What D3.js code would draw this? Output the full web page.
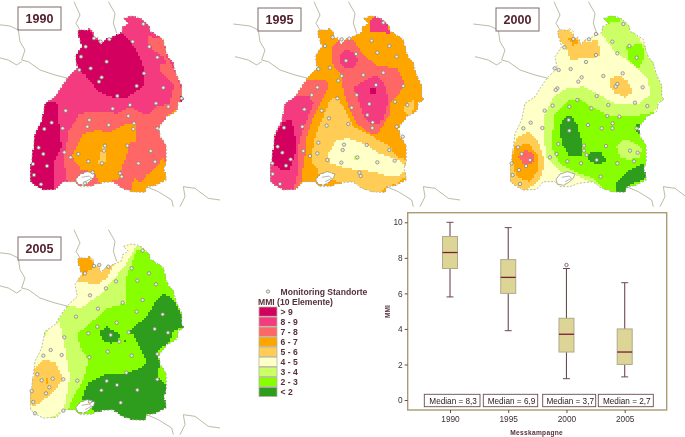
<!DOCTYPE html>
<html>
<head>
<meta charset="utf-8">
<script src="https://cdnjs.cloudflare.com/ajax/libs/d3/7.8.5/d3.min.js"></script>
<style>
  html, body { margin: 0; padding: 0; background: #fff; }
  text { font-family: "Liberation Sans", Arial, sans-serif; }
</style>
</head>
<body>
<div id="chart"></div>
<script>
// box plot values
var years = ["1990", "1995", "2000", "2005"];
var whiskerLow = [5.8, 3.9, 1.2, 1.3];
var quartile1 = [7.4, 6.0, 2.7, 2.0];
var medians = [8.3, 6.9, 3.7, 2.7];
var quartile3 = [9.2, 7.9, 4.6, 4.0];
var whiskerHigh = [10, 9.7, 7.4, 6.6];
var outliers = [[], [], [7.6], []];
var yTicks = [0, 2, 4, 6, 8, 10];

// map classes
var classLabels = ["> 9", "8 - 9", "7 - 8", "6 - 7", "5 - 6", "4 - 5", "3 - 4", "2 - 3", "< 2"];
var classColors = ["#d4005f", "#f43a80", "#ff6666", "#ffa500", "#ffcc55", "#ffffc8", "#ccff66", "#88ff00", "#2f9c1a"];

// state shape
var stateOutline = [[232,95],[245,88],[262,92],[268,85],[280,95],[280,112],[295,112],[302,132],[318,118],[335,112],[365,98],[368,80],[385,70],[370,55],[395,48],[415,52],[432,62],[445,75],[452,95],[470,105],[490,118],[497,150],[505,170],[520,190],[530,225],[545,255],[545,290],[552,298],[535,310],[530,335],[500,350],[490,365],[475,385],[482,410],[500,440],[500,480],[492,505],[500,540],[470,555],[440,562],[435,578],[395,575],[360,562],[340,545],[295,550],[270,560],[240,560],[225,545],[190,545],[170,568],[130,570],[110,560],[92,545],[92,500],[100,440],[105,400],[125,360],[135,310],[165,290],[190,250],[205,230],[232,205],[225,170],[245,140]];
var lake = [[228,538],[240,522],[262,515],[285,522],[280,535],[265,548],[250,556],[232,552]];
var lakeLine = [[245,532],[268,528],[275,535],[255,545]];
var borders = [
  [[-20,72],[30,78],[55,90],[60,125],[75,150],[65,180],[85,185],[120,210],[165,225],[205,235]],
  [[-15,170],[25,180],[50,195],[65,185]],
  [[222,5],[240,45],[228,70],[240,90]],
  [[325,5],[345,40],[340,70],[350,100]],
  [[440,560],[475,575],[515,600],[520,620]],
  [[540,620],[555,590],[550,560],[585,565],[625,595],[660,600]]
];

// class areas per map, later areas paint over earlier ones
var layers1990 = [
  { c: 2, p: [[445,110],[490,115],[500,170],[530,225],[555,295],[530,340],[500,350],[475,385],[505,440],[505,480],[505,540],[440,585],[395,585],[350,565],[295,555],[240,565],[200,540],[190,470],[205,410],[205,395],[240,340],[300,335],[350,340],[390,320],[440,345],[470,320],[510,310],[515,280],[525,260],[480,210],[480,190],[500,190],[490,170],[460,150],[445,130]] },
  { c: 3, p: [[215,470],[250,400],[290,392],[335,395],[380,370],[405,370],[408,425],[385,430],[380,470],[365,500],[355,540],[300,550],[280,515],[245,510]] },
  { c: 3, p: [[420,550],[440,525],[470,500],[490,470],[505,510],[505,545],[440,565],[440,585],[390,580],[402,535],[415,540]] },
  { c: 3, p: [[505,345],[530,330],[535,340],[505,355]] },
  { c: 4, p: [[302,460],[310,435],[320,440],[318,480],[305,495],[295,490]] },
  { c: 0, p: [[225,85],[262,85],[280,105],[300,130],[318,118],[365,98],[395,130],[420,170],[435,215],[435,250],[415,270],[375,295],[330,290],[290,270],[265,235],[235,205],[222,170],[240,140]] },
  { c: 0, p: [[130,310],[170,305],[180,400],[185,440],[165,480],[160,575],[130,575],[105,565],[88,545],[88,500],[95,440],[100,400],[120,360]] },
  { c: 0, p: [[540,288],[556,292],[552,304],[540,304]] }
];
var layers1995 = [
  { c: 4, p: [[320,290],[340,320],[355,350],[370,380],[420,405],[480,440],[500,470],[530,480],[535,525],[500,550],[470,560],[445,580],[400,570],[360,555],[310,540],[265,520],[260,500],[245,490],[250,430],[265,385],[280,350],[300,300]] },
  { c: 4, p: [[530,310],[555,300],[555,325],[535,350],[520,330]] },
  { c: 5, p: [[320,420],[355,415],[410,435],[445,460],[480,470],[515,485],[530,510],[505,530],[460,525],[430,515],[390,510],[350,505],[300,490],[295,460]] },
  { c: 6, p: [[374,468],[386,468],[386,480],[374,480]] },
  { c: 2, p: [[305,140],[330,120],[370,122],[405,170],[440,195],[500,205],[520,240],[520,265],[480,310],[480,340],[460,375],[440,405],[410,395],[380,370],[355,320],[340,270],[335,225],[305,190]] },
  { c: 1, p: [[420,60],[440,45],[470,60],[480,100],[420,95]] },
  { c: 2, p: [[225,240],[290,240],[295,260],[270,310],[250,350],[230,410],[225,470],[215,530],[210,575],[130,575],[110,545],[115,450],[160,340],[175,295],[200,270]] },
  { c: 1, p: [[160,310],[190,290],[235,285],[250,310],[235,350],[215,400],[205,440],[205,510],[190,575],[135,575],[110,545],[115,470],[130,420],[155,350]] },
  { c: 0, p: [[160,365],[185,360],[195,410],[195,460],[180,510],[155,510],[125,490],[125,440],[140,395]] },
  { c: 1, p: [[370,265],[395,245],[440,225],[465,255],[475,300],[465,345],[445,375],[425,375],[400,345],[385,300]] },
  { c: 1, p: [[330,165],[350,148],[375,160],[385,180],[370,205],[345,205],[328,190]] },
  { c: 0, p: [[418,268],[438,262],[436,285],[420,285]] },
  { c: 1, p: [[450,350],[466,346],[462,360],[452,360]] }
];
var layers2000 = [
  { c: 6, p: [[420,35],[500,40],[540,120],[580,170],[620,240],[625,295],[580,335],[550,380],[565,420],[570,500],[570,545],[480,585],[440,580],[400,550],[350,525],[300,515],[260,470],[250,410],[250,350],[280,290],[320,265],[370,260],[420,285],[470,315],[530,315],[570,285],[565,240],[540,210],[500,180],[470,160],[440,125],[420,90]] },
  { c: 7, p: [[425,40],[475,40],[478,65],[445,70],[430,62]] },
  { c: 7, p: [[500,140],[545,130],[555,170],[535,205],[505,180]] },
  { c: 7, p: [[280,345],[320,305],[355,295],[395,320],[440,345],[490,350],[540,345],[590,335],[550,375],[565,420],[570,500],[570,545],[480,585],[440,575],[400,535],[345,515],[300,490],[275,440],[280,380]] },
  { c: 6, p: [[470,440],[490,420],[520,425],[545,445],[540,470],[510,480],[480,470]] },
  { c: 8, p: [[305,360],[330,345],[350,370],[365,420],[365,465],[330,470],[305,430],[300,390]] },
  { c: 8, p: [[385,460],[420,455],[440,480],[415,495],[385,480]] },
  { c: 8, p: [[470,545],[510,510],[550,490],[570,530],[510,555],[490,585],[465,570]] },
  { c: 8, p: [[525,380],[535,365],[560,415],[530,395]] },
  { c: 4, p: [[290,85],[320,80],[345,110],[385,125],[415,120],[420,170],[330,180],[320,145],[290,115]] },
  { c: 4, p: [[450,235],[480,225],[505,245],[520,275],[495,292],[465,280],[450,260]] },
  { c: 3, p: [[325,115],[345,110],[355,125],[340,140]] },
  { c: 4, p: [[145,450],[175,410],[205,395],[235,425],[255,490],[240,540],[200,570],[170,580],[145,540]] },
  { c: 3, p: [[155,480],[165,440],[205,430],[235,470],[235,510],[210,545],[170,530]] },
  { c: 2, p: [[175,470],[195,450],[220,460],[220,485],[195,500]] }
];
var layers2005 = [
  { c: 5, p: [[180,305],[195,385],[210,470],[200,530],[190,570],[145,600],[100,595],[80,560],[85,470],[105,410],[125,370],[150,320]] },
  { c: 5, p: [[225,165],[225,130],[300,130],[350,110],[385,60],[415,65],[380,130],[340,180],[300,225],[240,265],[205,255],[225,195]] },
  { c: 4, p: [[225,190],[225,105],[265,100],[300,130],[335,120],[352,115],[320,175],[290,195],[245,185]] },
  { c: 3, p: [[222,112],[262,100],[275,125],[300,130],[270,150],[245,170],[235,165]] },
  { c: 4, p: [[90,460],[130,420],[165,425],[190,475],[165,510],[120,550],[100,560],[80,530]] },
  { c: 3, p: [[139,472],[146,472],[145,490],[139,490]] },
  { c: 7, p: [[232,340],[260,320],[320,265],[380,250],[380,170],[395,130],[410,90],[440,95],[490,110],[505,170],[525,220],[565,290],[560,320],[510,375],[505,480],[505,530],[505,565],[440,610],[380,605],[320,585],[260,580],[235,590],[200,580],[220,530],[250,480],[265,420],[240,380]] },
  { c: 8, p: [[385,335],[440,290],[470,240],[490,220],[510,230],[530,255],[560,320],[520,330],[510,365],[470,395],[480,430],[470,470],[505,500],[505,570],[440,585],[430,610],[380,605],[340,585],[290,580],[245,535],[265,490],[310,465],[380,460],[430,440],[440,425],[425,395],[400,345]] },
  { c: 8, p: [[300,335],[320,320],[345,335],[360,345],[355,365],[330,370],[305,360]] },
  { c: 8, p: [[372,360],[382,358],[378,370]] }
];

// monitoring sites per map
var sites1990 = [[430,72],[448,140],[472,172],[398,125],[282,115],[302,125],[328,118],[257,140],[243,170],[238,210],[272,205],[320,185],[432,220],[305,232],[297,245],[410,258],[352,288],[490,263],[545,295],[197,332],[338,326],[390,315],[468,310],[505,320],[268,360],[385,348],[402,370],[400,387],[326,375],[262,380],[188,385],[155,368],[133,387],[472,385],[315,437],[312,452],[382,437],[306,490],[116,443],[130,462],[193,457],[235,462],[212,472],[265,484],[452,453],[465,485],[415,490],[99,492],[141,498],[102,525],[123,553],[278,517],[360,520],[365,530],[255,550]];
var sites1995 = [[460,68],[425,122],[478,138],[442,158],[500,170],[285,138],[308,112],[335,118],[358,116],[378,162],[348,182],[265,207],[300,203],[335,228],[325,242],[400,225],[460,218],[520,258],[438,255],[262,262],[245,285],[380,285],[322,295],[418,312],[495,305],[532,315],[223,328],[275,332],[365,323],[297,355],[412,345],[428,367],[427,384],[355,372],[290,377],[217,380],[162,383],[500,380],[518,410],[265,428],[342,434],[410,435],[338,450],[143,440],[157,458],[220,453],[262,460],[240,468],[478,450],[382,472],[292,480],[334,488],[442,487],[494,482],[182,478],[127,490],[168,497],[128,522],[150,552],[388,518],[392,528]];
var sites2000 = [[490,72],[408,102],[387,118],[340,117],[313,142],[457,125],[508,138],[472,160],[530,173],[408,165],[378,186],[284,205],[296,210],[332,207],[488,220],[430,228],[365,232],[355,245],[472,252],[467,260],[548,262],[292,265],[287,270],[410,288],[352,300],[525,308],[562,318],[445,315],[328,320],[394,325],[278,317],[254,332],[442,348],[478,350],[212,368],[326,360],[384,375],[458,370],[457,385],[247,384],[425,385],[190,385],[530,385],[328,392],[295,432],[372,437],[438,438],[174,442],[185,462],[372,452],[510,452],[533,458],[380,465],[290,462],[270,472],[155,490],[210,480],[198,498],[322,484],[363,490],[410,480],[472,490],[522,484],[177,510],[158,525],[180,552],[422,530]];
var sites2005 = [[428,92],[395,145],[447,160],[412,182],[468,193],[282,138],[325,140],[298,135],[255,160],[348,184],[318,205],[270,226],[428,240],[368,248],[294,266],[410,275],[488,283],[228,290],[464,327],[350,308],[292,320],[265,340],[332,345],[386,337],[504,338],[358,365],[193,352],[152,390],[185,405],[130,407],[268,412],[323,395],[395,407],[472,402],[379,458],[112,463],[125,481],[158,476],[190,478],[232,482],[320,483],[351,495],[472,478],[148,502],[95,513],[138,520],[304,511],[412,510],[100,546],[362,548],[190,572],[105,580],[270,545]];

render();

function render() {
  var svg = d3.select("#chart")
    .append("svg")
    .attr("width", 685)
    .attr("height", 437);

  var blur = svg.append("defs").append("filter")
    .attr("id", "soft")
    .attr("x", "-5%").attr("y", "-5%").attr("width", "110%").attr("height", "110%");
  blur.append("feGaussianBlur").attr("stdDeviation", 0.5);

  var panels = [
    { year: "1990", base: 1, layers: layers1990, sites: sites1990, left: 0, top: 0, shiftX: 0, shiftY: 0, labelX: 18, labelY: 7 },
    { year: "1995", base: 3, layers: layers1995, sites: sites1995, left: 230, top: 0, shiftX: 30, shiftY: 0, labelX: 258, labelY: 8 },
    { year: "2000", base: 5, layers: layers2000, sites: sites2000, left: 460, top: 0, shiftX: 60, shiftY: 0, labelX: 496, labelY: 8 },
    { year: "2005", base: 6, layers: layers2005, sites: sites2005, left: 0, top: 220, shiftX: 0, shiftY: 24, labelX: 18, labelY: 237 }
  ];

  panels.forEach(function (panel) { drawMap(svg, panel); });
  drawLegend(svg);
  drawBoxplot(svg);
}

function drawMap(svg, panel) {
  var x = d3.scaleLinear().domain([0, 690]).range([panel.left, panel.left + 230]);
  var y = d3.scaleLinear().domain([0, 690]).range([panel.top, panel.top + 230]);
  var shifted = function (pts) {
    return pts.map(function (d) { return [d[0] + panel.shiftX, d[1] + panel.shiftY]; });
  };
  var line = d3.line()
    .x(function (d) { return x(d[0]); })
    .y(function (d) { return y(d[1]); });

  var outline = shifted(stateOutline);
  var water = shifted(lake);
  var g = svg.append("g").attr("filter", "url(#soft)");

  // the maps are coarse rasters, so sample the class areas on a small grid
  var cell = 2;
  var paths = classColors.map(function () { return ""; });
  for (var px = panel.left; px < panel.left + 230; px += cell) {
    for (var py = panel.top; py < panel.top + 217; py += cell) {
      var u = [x.invert(px + cell / 2), y.invert(py + cell / 2)];
      if (!d3.polygonContains(outline, u) || d3.polygonContains(water, u)) continue;
      var c = panel.base;
      panel.layers.forEach(function (layer) {
        if (d3.polygonContains(layer.p, u)) c = layer.c;
      });
      paths[c] += "M" + px + "," + py + "h" + cell + "v" + cell + "h-" + cell + "z";
    }
  }
  classColors.forEach(function (color, i) {
    g.append("path")
      .attr("d", paths[i])
      .attr("fill", color)
      .attr("shape-rendering", "crispEdges");
  });

  borders.forEach(function (b) {
    g.append("path")
      .attr("d", line(shifted(b)))
      .attr("fill", "none")
      .attr("stroke", "#b3b39c")
      .attr("stroke-width", 0.9);
  });
  g.append("path")
    .attr("d", line(outline) + "Z")
    .attr("fill", "none")
    .attr("stroke", "#b3b39c")
    .attr("stroke-width", 0.9)
    .attr("stroke-dasharray", "2 1.5");
  g.append("path")
    .attr("d", line(water) + "Z")
    .attr("fill", "none")
    .attr("stroke", "#9a9a88")
    .attr("stroke-width", 0.8);
  g.append("path")
    .attr("d", line(shifted(lakeLine)))
    .attr("fill", "none")
    .attr("stroke", "#9a9a88")
    .attr("stroke-width", 0.7);

  g.selectAll("circle.site")
    .data(panel.sites)
    .enter()
    .append("circle")
    .attr("class", "site")
    .attr("cx", function (d) { return x(d[0]); })
    .attr("cy", function (d) { return y(d[1]); })
    .attr("r", 1.7)
    .attr("fill", "#ecebe2")
    .attr("stroke", "#7d7d72")
    .attr("stroke-width", 0.7);

  var label = svg.append("g").attr("filter", "url(#soft)");
  label.append("rect")
    .attr("x", panel.labelX)
    .attr("y", panel.labelY)
    .attr("width", 43)
    .attr("height", 23)
    .attr("fill", "#fff")
    .attr("stroke", "#7c6a68")
    .attr("stroke-width", 1);
  label.append("text")
    .attr("x", panel.labelX + 21.5)
    .attr("y", panel.labelY + 16)
    .attr("text-anchor", "middle")
    .attr("font-size", 12.5)
    .attr("font-weight", "bold")
    .attr("fill", "#55202e")
    .text(panel.year);
}

function drawLegend(svg) {
  var g = svg.append("g").attr("filter", "url(#soft)");
  var y = d3.scaleBand().domain(classLabels).range([307, 396.5]).paddingInner(0.08);

  g.append("circle")
    .attr("cx", 268)
    .attr("cy", 291.5)
    .attr("r", 1.7)
    .attr("fill", "#ecebe2")
    .attr("stroke", "#7d7d72")
    .attr("stroke-width", 0.7);
  g.append("text")
    .attr("x", 280.5)
    .attr("y", 294.5)
    .attr("font-size", 8.6)
    .attr("font-weight", "bold")
    .attr("fill", "#55303a")
    .text("Monitoring Standorte");
  g.append("text")
    .attr("x", 258)
    .attr("y", 304.5)
    .attr("font-size", 8.6)
    .attr("font-weight", "bold")
    .attr("fill", "#55303a")
    .text("MMI (10 Elemente)");

  g.selectAll("rect.swatch")
    .data(classLabels)
    .enter()
    .append("rect")
    .attr("class", "swatch")
    .attr("x", 259)
    .attr("y", function (d) { return y(d); })
    .attr("width", 18)
    .attr("height", y.bandwidth())
    .attr("fill", function (d, i) { return classColors[i]; })
    .attr("stroke", "#b3b39c")
    .attr("stroke-width", 0.8);
  g.selectAll("text.cls")
    .data(classLabels)
    .enter()
    .append("text")
    .attr("class", "cls")
    .attr("x", 280.5)
    .attr("y", function (d) { return y(d) + y.bandwidth() / 2 + 3; })
    .attr("font-size", 8.6)
    .attr("font-weight", "bold")
    .attr("fill", "#55303a")
    .text(function (d) { return d; });
}

function drawBoxplot(svg) {
  var frame = { left: 407.7, right: 666.7, top: 212.7, bottom: 410 };
  var g = svg.append("g").attr("filter", "url(#soft)");

  var x = d3.scalePoint().domain(years).range([450, 624.7]);
  var y = d3.scaleLinear().domain([0, 10]).range([400, 222.3]);
  var stats = years.map(function (year, i) {
    return { year: year, lo: whiskerLow[i], q1: quartile1[i], med: medians[i], q3: quartile3[i], hi: whiskerHigh[i], out: outliers[i] };
  });
  var lineColor = "#6b4a4e";
  var boxWidth = 15;
  var capWidth = 7;

  g.append("rect")
    .attr("x", frame.left)
    .attr("y", frame.top)
    .attr("width", frame.right - frame.left)
    .attr("height", frame.bottom - frame.top)
    .attr("fill", "#fff")
    .attr("stroke", "#a89c72")
    .attr("stroke-width", 1.4);

  var xAxis = g.append("g")
    .attr("transform", "translate(0," + frame.bottom + ")")
    .call(d3.axisBottom(x).tickSize(3).tickPadding(3));
  var yAxis = g.append("g")
    .attr("transform", "translate(" + frame.left + ",0)")
    .call(d3.axisLeft(y).tickValues(yTicks).tickSize(3).tickPadding(2));
  [xAxis, yAxis].forEach(function (axis) {
    axis.select(".domain").remove();
    axis.selectAll("line").attr("stroke", lineColor);
    axis.selectAll("text")
      .attr("font-size", 8.3)
      .attr("fill", "#3c3034")
      .style("font-family", "'Liberation Sans', Arial, sans-serif");
  });

  var box = g.selectAll("g.box")
    .data(stats)
    .enter()
    .append("g")
    .attr("class", "box");

  box.append("line")
    .attr("x1", function (d) { return x(d.year); })
    .attr("x2", function (d) { return x(d.year); })
    .attr("y1", function (d) { return y(d.lo); })
    .attr("y2", function (d) { return y(d.hi); })
    .attr("stroke", lineColor)
    .attr("stroke-width", 1.1);
  [function (d) { return d.lo; }, function (d) { return d.hi; }].forEach(function (value) {
    box.append("line")
      .attr("x1", function (d) { return x(d.year) - capWidth / 2; })
      .attr("x2", function (d) { return x(d.year) + capWidth / 2; })
      .attr("y1", function (d) { return y(value(d)); })
      .attr("y2", function (d) { return y(value(d)); })
      .attr("stroke", lineColor)
      .attr("stroke-width", 1);
  });
  box.append("rect")
    .attr("x", function (d) { return x(d.year) - boxWidth / 2; })
    .attr("y", function (d) { return y(d.q3); })
    .attr("width", boxWidth)
    .attr("height", function (d) { return y(d.q1) - y(d.q3); })
    .attr("fill", "#ddd596")
    .attr("stroke", "#b0a98a")
    .attr("stroke-width", 1);
  box.append("line")
    .attr("x1", function (d) { return x(d.year) - boxWidth / 2; })
    .attr("x2", function (d) { return x(d.year) + boxWidth / 2; })
    .attr("y1", function (d) { return y(d.med); })
    .attr("y2", function (d) { return y(d.med); })
    .attr("stroke", "#7a1a3c")
    .attr("stroke-width", 1.3);
  box.selectAll("circle")
    .data(function (d) { return d.out.map(function (v) { return { year: d.year, v: v }; }); })
    .enter()
    .append("circle")
    .attr("cx", function (d) { return x(d.year); })
    .attr("cy", function (d) { return y(d.v); })
    .attr("r", 1.7)
    .attr("fill", "#fff")
    .attr("stroke", lineColor)
    .attr("stroke-width", 0.8);

  // median boxes, not evenly spaced in the original
  var medianLeft = d3.scaleOrdinal().domain(years).range([424.3, 483.3, 542.7, 598.3]);
  var medianWidth = d3.scaleOrdinal().domain(years).range([55.7, 54.4, 53, 55]);
  g.selectAll("rect.median")
    .data(stats)
    .enter()
    .append("rect")
    .attr("class", "median")
    .attr("x", function (d) { return medianLeft(d.year); })
    .attr("y", 394.3)
    .attr("width", function (d) { return medianWidth(d.year); })
    .attr("height", 12.4)
    .attr("fill", "#fff")
    .attr("stroke", "#6b4a4e")
    .attr("stroke-width", 0.9);
  g.selectAll("text.median")
    .data(stats)
    .enter()
    .append("text")
    .attr("class", "median")
    .attr("x", function (d) { return medianLeft(d.year) + medianWidth(d.year) / 2 + 1; })
    .attr("y", 403.5)
    .attr("text-anchor", "middle")
    .attr("font-size", 8.2)
    .attr("fill", "#2c2024")
    .text(function (d) { return "Median = " + String(d.med).replace(".", ","); });

  g.append("text")
    .attr("x", 536.7)
    .attr("y", 435)
    .attr("text-anchor", "middle")
    .attr("font-size", 6.6)
    .attr("font-weight", "bold")
    .attr("letter-spacing", 0.3)
    .attr("fill", "#55303a")
    .text("Messkampagne");
  g.append("text")
    .attr("transform", "translate(390,311.5) rotate(-90)")
    .attr("text-anchor", "middle")
    .attr("font-size", 6.6)
    .attr("font-weight", "bold")
    .attr("fill", "#55303a")
    .text("MMI");
}
</script>
</body>
</html>
